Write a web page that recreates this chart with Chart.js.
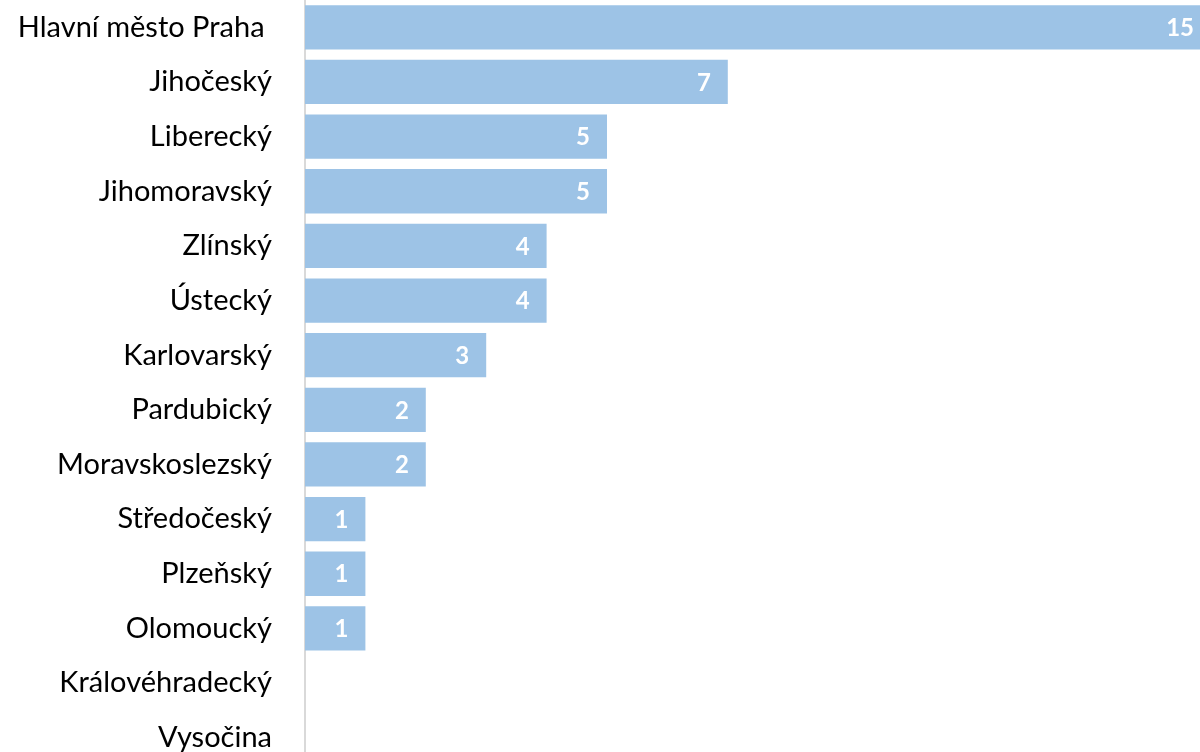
<!DOCTYPE html>
<html>
<head>
<meta charset="utf-8">
<script src="https://cdn.jsdelivr.net/npm/chart.js@4.4.0/dist/chart.umd.min.js"></script>
<style>
  html, body { margin: 0; padding: 0; background: #fff; overflow: hidden; }
  #wrap { width: 1211px; height: 765px; }
</style>
</head>
<body>
<div id="wrap"><canvas id="myChart"></canvas></div>
<script>
let kraje = ['Hlavní město Praha ', 'Jihočeský', 'Liberecký', 'Jihomoravský', 'Zlínský', 'Ústecký',
  'Karlovarský', 'Pardubický', 'Moravskoslezský', 'Středočeský', 'Plzeňský', 'Olomoucký',
  'Královéhradecký', 'Vysočina'];
let pocty = [15, 7, 5, 5, 4, 4, 3, 2, 2, 1, 1, 1, 0, 0];

// popisky hodnot uvnitř konce sloupce
const popisky = {
  id: 'popisky',
  afterDatasetsDraw(chart) {
    const ctx = chart.ctx;
    const meta = chart.getDatasetMeta(0);
    ctx.save();
    ctx.fillStyle = '#ffffff';
    ctx.font = 'bold 24px Lato';
    ctx.textAlign = 'right';
    ctx.textBaseline = 'middle';
    meta.data.forEach((bar, i) => {
      if (!pocty[i]) return;
      ctx.fillText(String(pocty[i]), bar.x - 17, bar.y + 1);
    });
    ctx.restore();
  }
};

let ctx = document.getElementById('myChart').getContext('2d');
let myChart = new Chart(ctx, {
  type: 'bar',
  data: {
    labels: kraje,
    datasets: [{
      data: pocty,
      backgroundColor: '#9DC3E6',
      borderWidth: 0,
      categoryPercentage: 1,
      barPercentage: 0.81
    }]
  },
  options: {
    indexAxis: 'y',
    responsive: true,
    maintainAspectRatio: false,
    animation: false,
    layout: { padding: 0 },
    plugins: {
      legend: { display: false },
      tooltip: { enabled: false }
    },
    scales: {
      x: { display: false, min: 0, max: 15 },
      y: {
        afterFit(scale) {
          scale.width = 305;
          scale.paddingTop = 0;
          scale.paddingBottom = 0;
        },
        grid: { display: false, drawTicks: false },
        border: { display: true, color: '#d9d9d9', width: 2 },
        ticks: {
          color: '#000000',
          font: { family: 'Lato', size: 29 },
          padding: 33
        }
      }
    }
  },
  plugins: [popisky]
});
</script>
</body>
</html>
